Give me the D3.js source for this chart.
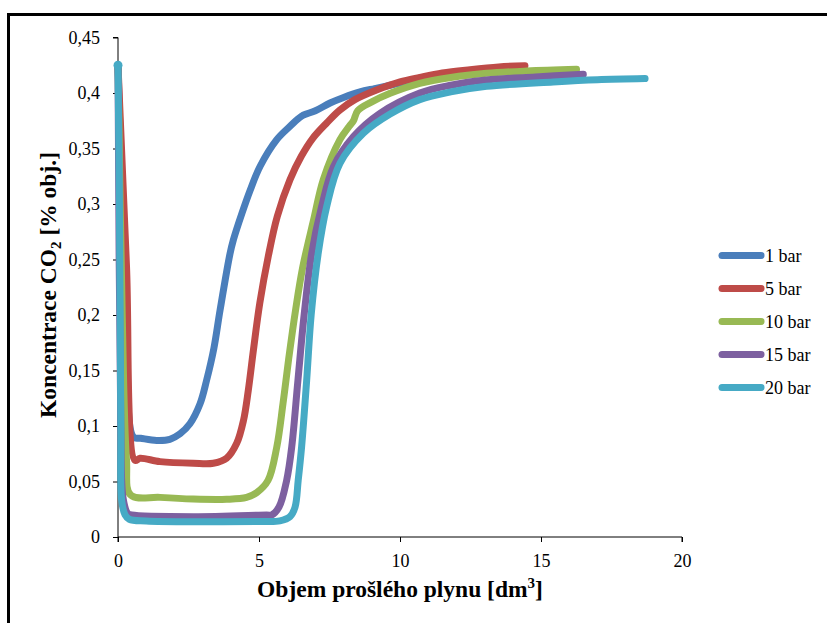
<!DOCTYPE html>
<html>
<head>
<meta charset="utf-8">
<script src="https://cdn.jsdelivr.net/npm/d3@7"></script>
<style>
  html, body { margin: 0; padding: 0; background: #fff; }
  svg { display: block; }
</style>
</head>
<body>
<svg id="chart" width="827" height="623"></svg>
<script>
// ---------------- DATA ----------------
const seriesNames = ["1 bar", "5 bar", "10 bar", "15 bar", "20 bar"];
const seriesColors = ["#4A7EBB", "#BE4B48", "#98B954", "#7D60A0", "#46AAC5"];

const bar1X = [0, 0.3, 0.55, 0.8, 1.37, 1.84, 2.2, 2.55, 2.91, 3.14, 3.4, 3.62, 3.97, 4.09, 4.4, 4.68, 5.04, 5.63, 6.1, 6.4, 6.57, 7.0, 7.52, 8.0, 8.58, 9.1, 9.65, 10.2, 11.0, 12.0];
const bar1Y = [0.425, 0.2, 0.09, 0.089, 0.087, 0.088, 0.093, 0.102, 0.12, 0.141, 0.17, 0.2045, 0.255, 0.2676, 0.292, 0.312, 0.334, 0.358, 0.37, 0.377, 0.38, 0.384, 0.391, 0.396, 0.401, 0.404, 0.407, 0.41, 0.413, 0.415];

const bar5X = [0, 0.3, 0.6, 0.78, 1.49, 2.67, 3.38, 3.85, 4.21, 4.45, 4.62, 4.8, 5.03, 5.33, 5.65, 6.1, 6.5, 6.9, 7.4, 7.87, 8.4, 9.17, 10.0, 10.7, 11.5, 12.48, 13.5, 14.43];
const bar5Y = [0.425, 0.245, 0.069, 0.0709, 0.0679, 0.0664, 0.0664, 0.0709, 0.0844, 0.105, 0.132, 0.168, 0.211, 0.253, 0.289, 0.322, 0.343, 0.359, 0.373, 0.3847, 0.394, 0.4027, 0.41, 0.414, 0.418, 0.421, 0.4235, 0.4246];

const bar10X = [0, 0.15, 0.3, 0.45, 1.49, 2.67, 3.85, 4.56, 4.92, 5.32, 5.63, 5.85, 6.05, 6.3, 6.55, 6.93, 7.28, 7.87, 8.2, 8.35, 8.5, 9.0, 9.65, 10.7, 11.8, 13.07, 14.5, 16.26];
const bar10Y = [0.425, 0.2, 0.07, 0.0378, 0.0357, 0.0342, 0.034, 0.0357, 0.04, 0.051, 0.081, 0.12, 0.16, 0.205, 0.243, 0.285, 0.322, 0.358, 0.37, 0.375, 0.384, 0.392, 0.3997, 0.4087, 0.414, 0.4177, 0.4198, 0.4213];

const bar15X = [0, 0.1, 0.18, 0.35, 0.48, 2.67, 5.27, 5.45, 5.71, 5.98, 6.16, 6.38, 6.6, 6.87, 7.22, 7.64, 8.35, 9.29, 10.7, 11.8, 13.07, 14.8, 16.5];
const bar15Y = [0.425, 0.1, 0.035, 0.021, 0.0198, 0.0183, 0.0198, 0.0198, 0.027, 0.051, 0.081, 0.141, 0.2, 0.2556, 0.2976, 0.3336, 0.3607, 0.3817, 0.4, 0.407, 0.4117, 0.4145, 0.4168];

const bar20X = [0, 0.05, 0.1, 0.13, 0.25, 0.4, 1.0, 3.0, 5.0, 5.74, 6.1, 6.28, 6.39, 6.51, 6.69, 6.85, 7.1, 7.4, 7.87, 8.7, 9.65, 10.7, 11.8, 13.07, 15.43, 17.0, 18.69];
const bar20Y = [0.425, 0.3, 0.1, 0.033, 0.02, 0.016, 0.0145, 0.0138, 0.014, 0.0145, 0.0183, 0.027, 0.051, 0.081, 0.141, 0.2, 0.2556, 0.2976, 0.3366, 0.3637, 0.381, 0.394, 0.401, 0.406, 0.41, 0.412, 0.413];

const xTicks = [0, 5, 10, 15, 20];
const xTickLabels = ["0", "5", "10", "15", "20"];
const yTicks = [0, 0.05, 0.1, 0.15, 0.2, 0.25, 0.3, 0.35, 0.4, 0.45];
const yTickLabels = ["0", "0,05", "0,1", "0,15", "0,2", "0,25", "0,3", "0,35", "0,4", "0,45"];

// ---------------- CHART ----------------
const svg = d3.select("#chart");
const FONT = "'Liberation Serif', 'Times New Roman', serif";

// outer frame
svg.append("rect")
  .attr("x", 8.5).attr("y", 14.5)
  .attr("width", 900).attr("height", 700)
  .attr("fill", "none").attr("stroke", "#000").attr("stroke-width", 3);

const x = d3.scaleLinear().domain([0, 20]).range([118, 682]);
const y = d3.scaleLinear().domain([0, 0.45]).range([537, 37.5]);

const xAxis = d3.axisBottom(x).tickValues(xTicks).tickSize(5).tickPadding(12)
  .tickFormat((d, i) => xTickLabels[i]);
const yAxis = d3.axisLeft(y).tickValues(yTicks).tickSize(5).tickPadding(13)
  .tickFormat((d, i) => yTickLabels[i]);

const gx = svg.append("g").attr("transform", `translate(0,${y(0)})`).call(xAxis);
const gy = svg.append("g").attr("transform", `translate(${x(0)},0)`).call(yAxis);
[gx, gy].forEach(g => {
  g.select(".domain").attr("stroke", "#000").attr("stroke-width", 1);
  g.selectAll(".tick line").attr("stroke", "#000").attr("stroke-width", 1);
  g.selectAll("text").attr("font-family", FONT).attr("font-size", 18).attr("fill", "#000");
});
gx.select(".domain").attr("d", `M${x(0)},5V0H${x(20)}V5`);
gy.select(".domain").attr("d", `M-5,${y(0.45)}H0V${y(0)}`);

// series
const allX = [bar1X, bar5X, bar10X, bar15X, bar20X];
const allY = [bar1Y, bar5Y, bar10Y, bar15Y, bar20Y];
const series = seriesNames.map((name, i) => ({
  name, color: seriesColors[i],
  values: allX[i].map((v, j) => ({ x: v, y: allY[i][j] }))
}));

const line = d3.line().x(d => x(d.x)).y(d => y(d.y)).curve(d3.curveCatmullRom.alpha(0.5));

const gLines = svg.append("g");
series.forEach(s => {
  gLines.append("path")
    .datum(s.values)
    .attr("d", line)
    .attr("fill", "none")
    .attr("stroke", s.color)
    .attr("stroke-width", 7)
    .attr("stroke-linecap", "round")
    .attr("stroke-linejoin", "round");
});
const last = series[series.length - 1];
svg.append("circle")
  .attr("cx", x(last.values[0].x)).attr("cy", y(last.values[0].y))
  .attr("r", 4.5).attr("fill", last.color);

// legend
const legend = svg.append("g");
series.forEach((s, i) => {
  const ly = 255.5 + i * 33;
  legend.append("line")
    .attr("x1", 722).attr("x2", 761).attr("y1", ly).attr("y2", ly)
    .attr("stroke", s.color).attr("stroke-width", 7).attr("stroke-linecap", "round");
  legend.append("text")
    .attr("x", 765).attr("y", ly).attr("dy", "0.35em")
    .attr("font-family", FONT).attr("font-size", 18).attr("fill", "#000")
    .text(s.name);
});

// axis titles
const xt = svg.append("text")
  .attr("x", 400).attr("y", 597)
  .attr("text-anchor", "middle")
  .attr("font-family", FONT).attr("font-size", 23.5).attr("font-weight", "bold");
xt.append("tspan").text("Objem prošlého plynu [dm");
xt.append("tspan").attr("font-size", 15).attr("dy", -9).text("3");
xt.append("tspan").attr("dy", 9).text("]");

const yt = svg.append("text")
  .attr("transform", "translate(56,285) rotate(-90)")
  .attr("text-anchor", "middle")
  .attr("font-family", FONT).attr("font-size", 23.5).attr("font-weight", "bold");
yt.append("tspan").text("Koncentrace CO");
yt.append("tspan").attr("font-size", 15).attr("dy", 5).text("2");
yt.append("tspan").attr("dy", -5).text(" [% obj.]");
</script>
</body>
</html>
